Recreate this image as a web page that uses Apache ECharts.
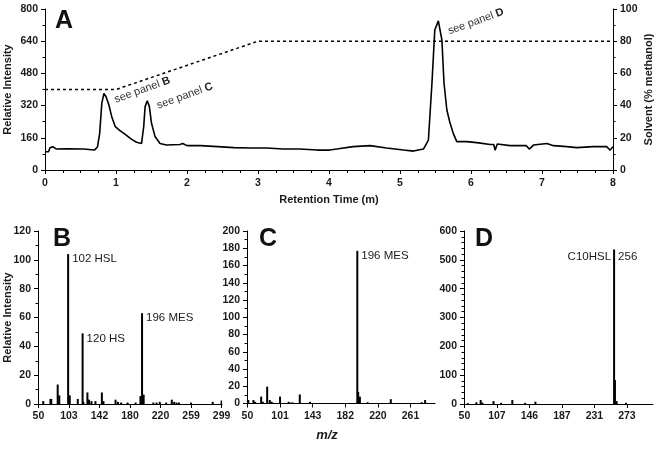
<!DOCTYPE html>
<html>
<head>
<meta charset="utf-8">
<script src="https://cdn.jsdelivr.net/npm/echarts@6/dist/echarts.min.js"></script>
<style>html,body{margin:0;padding:0;background:#fff}#c{width:656px;height:449px}</style>
</head>
<body>
<div id="c"></div>
<script>
// ---- Panel A: chromatogram ----
const timeA = [0, 0.05, 0.07, 0.11, 0.16, 0.3, 0.54, 0.7, 0.74, 0.77, 0.8, 0.83, 0.86, 0.9, 0.94, 0.99, 1.06, 1.13, 1.22, 1.29, 1.36, 1.39, 1.41, 1.44, 1.47, 1.5, 1.55, 1.62, 1.71, 1.9, 1.94, 2.0, 2.19, 2.43, 2.66, 2.89, 3.12, 3.36, 3.59, 3.83, 4.01, 4.11, 4.34, 4.58, 4.81, 5.05, 5.19, 5.33, 5.4, 5.45, 5.49, 5.54, 5.59, 5.62, 5.66, 5.7, 5.75, 5.8, 5.94, 6.08, 6.27, 6.32, 6.34, 6.37, 6.55, 6.78, 6.82, 6.88, 7.07, 7.16, 7.35, 7.49, 7.72, 7.91, 7.96, 8.0];
const intensityA = [91, 91, 111, 116, 104, 105, 104, 99, 116, 182, 331, 381, 364, 323, 265, 215, 194, 177, 152, 138, 132, 215, 315, 344, 315, 232, 166, 132, 124, 127, 132, 121, 121, 116, 111, 109, 109, 104, 104, 99, 99, 104, 116, 121, 109, 99, 94, 104, 149, 431, 696, 741, 646, 431, 298, 240, 182, 141, 141, 136, 127, 127, 98, 129, 121, 121, 104, 124, 132, 121, 116, 111, 116, 116, 99, 116];
const solventTime = [0, 1, 3, 8];
const solventPct = [50, 50, 80, 80];
const annotA = [
  {letter: 'B', t: 1.37, v: 398},
  {letter: 'C', t: 1.97, v: 368},
  {letter: 'D', t: 6.07, v: 738}
];

// ---- Panels B, C, D: mass spectra (m/z, relative intensity) ----
const ticksB = [50, 103, 142, 180, 220, 259, 299];
const ticksC = [50, 101, 143, 182, 220, 261];
const ticksD = [50, 107, 146, 187, 231, 273];
const endMzB = 299, endMzC = 289, endMzD = 303;
const slotsPerTick = 38;

const peaksB = [[59,2],[71,3.5],[72,3.5],[83,13.5],[86,6],[102,104],[104,6],[114,3.5],[120,49],[122,1.5],[127,8],[129,3],[132,2],[137,2],[145,8],[147,2],[162,3],[165,1.5],[169,1],[177,1],[187,1],[194,5.5],[196,63],[198,6.5],[211,1],[215,1],[219,1.5],[227,1],[234,3],[237,1.5],[241,1],[244,1],[259,1],[287,1.5],[299,2.5]];
const peaksC = [[52,4],[59,4],[62,2],[72,8],[74,2],[81,19.5],[85,4],[88,2],[91,1],[101,8],[112,2],[114,1],[116,1],[118,1],[126,10.5],[140,2],[196,177],[197,13.5],[199,8],[208,1.5],[236,5],[274,1.5],[278,4]];
const peaksD = [[57,3],[72,6],[79,14],[82,5],[101,10],[112,4],[126,14],[141,4],[154,8],[256,536],[258,83],[260,10],[272,4]];

const labelsB = [[102, '102 HSL'], [120, '120 HS'], [196, '196 MES']];
const labelsC = [[196, '196 MES']];
const labelsD = [[256, 'C10HSL', '256']];

// ordinal m/z slots (equal number of slots between labelled ticks, like a category axis)
function buildCats(ticks, n, endMz) {
  const cats = [];
  for (let i = 0; i < ticks.length - 1; i++) {
    const a = ticks[i], b = ticks[i + 1];
    for (let k = 0; k < n; k++) cats.push(Math.round(a + (b - a) * k / n));
  }
  for (let m = ticks[ticks.length - 1]; m <= endMz; m++) cats.push(m);
  return cats;
}
function nearestIdx(cats, mz) {
  let best = 0;
  for (let i = 1; i < cats.length; i++) if (Math.abs(cats[i] - mz) < Math.abs(cats[best] - mz)) best = i;
  return best;
}

const FONT = "'Liberation Sans Narrow', 'Liberation Sans', Arial, sans-serif";
const TXT = '#1a1a1a';

function spectrum(ticks, endMz, peaks, labels) {
  const cats = buildCats(ticks, slotsPerTick, endMz);
  const data = cats.map(() => '-');
  peaks.forEach(([mz, v]) => {
    const i = nearestIdx(cats, mz);
    if (data[i] === '-' || data[i] < v) data[i] = v;
  });
  const items = data.map((v) => ({value: v}));
  const markData = [];
  labels.forEach(l => {
    const i = nearestIdx(cats, l[0]);
    if (l.length === 2) {
      items[i].label = {show: true, position: [5, -1], formatter: l[1], color: TXT, fontSize: 11.5, fontFamily: 'Liberation Sans', verticalAlign: 'top', align: 'left'};
    } else {
      items[i].label = {show: true, position: [5, 1], formatter: l[2], color: TXT, fontSize: 11.5, fontFamily: 'Liberation Sans', verticalAlign: 'top', align: 'left'};
      markData.push({coord: [String(cats[i]), data[i]], value: l[1]});
    }
  });
  return {cats: cats.map(String), items, markData};
}

const specB = spectrum(ticksB, endMzB, peaksB, labelsB);
const specC = spectrum(ticksC, endMzC, peaksC, labelsC);
const specD = spectrum(ticksD, endMzD, peaksD, labelsD);

const axisLineS = {show: true, lineStyle: {color: '#000', width: 1}};
const tickLabel = {color: TXT, fontSize: 10.5, fontWeight: 'bold', fontFamily: FONT};

function catXAxis(gridIndex, spec, ticks, extra) {
  const show = (idx, val) => ticks.includes(+val);
  return Object.assign({
    type: 'category', gridIndex, data: spec.cats, boundaryGap: true,
    axisLine: axisLineS,
    axisTick: {show: true, interval: show, alignWithLabel: true, length: 4, lineStyle: {color: '#000'}},
    axisLabel: Object.assign({interval: show, margin: 7}, tickLabel),
    splitLine: {show: false}, nameMoveOverlap: false
  }, extra || {});
}
function valYAxis(gridIndex, max, interval, minorSplit, extra) {
  return Object.assign({
    type: 'value', gridIndex, min: 0, max, interval,
    axisLine: axisLineS,
    axisTick: {show: true, length: 4, lineStyle: {color: '#000'}},
    minorTick: {show: true, splitNumber: minorSplit, length: 2.5, lineStyle: {color: '#000'}},
    axisLabel: Object.assign({margin: 7}, tickLabel),
    splitLine: {show: false}, minorSplitLine: {show: false}, nameMoveOverlap: false
  }, extra || {});
}

const chart = echarts.init(document.getElementById('c'), null, {renderer: 'canvas'});
const nameStyle = {color: TXT, fontSize: 11, fontWeight: 'bold', fontFamily: FONT};

chart.setOption({
  animation: false,
  backgroundColor: '#fff',
  title: [
    {text: 'A', left: 55, top: 9},
    {text: 'B', left: 53, top: 227},
    {text: 'C', left: 259, top: 227},
    {text: 'D', left: 475, top: 227}
  ].map(t => Object.assign(t, {padding: 0, textStyle: {fontSize: 25, fontWeight: 'bold', color: '#111', fontFamily: 'Liberation Sans'}})),
  grid: [
    {left: 45, top: 9, width: 568, height: 161, outerBoundsMode: 'none', containLabel: false},
    {left: 38, top: 231, width: 184, height: 173, outerBoundsMode: 'none', containLabel: false},
    {left: 247, top: 231, width: 188, height: 172.5, outerBoundsMode: 'none', containLabel: false},
    {left: 464, top: 231, width: 189, height: 173, outerBoundsMode: 'none', containLabel: false}
  ],
  xAxis: [
    {type: 'value', gridIndex: 0, min: 0, max: 8, interval: 1,
     axisLine: axisLineS,
     axisTick: {show: true, length: 4, lineStyle: {color: '#000'}},
     minorTick: {show: true, splitNumber: 4, length: 3, lineStyle: {color: '#000'}},
     axisLabel: Object.assign({margin: 8}, tickLabel),
     splitLine: {show: false}, minorSplitLine: {show: false}, nameMoveOverlap: false,
     name: 'Retention Time (m)', nameLocation: 'middle', nameGap: 24, nameTextStyle: nameStyle},
    catXAxis(1, specB, ticksB),
    catXAxis(2, specC, ticksC, {name: 'm/z', nameLocation: 'middle', nameGap: 25,
      nameTextStyle: {color: TXT, fontSize: 13, fontWeight: 'bold', fontStyle: 'italic', fontFamily: 'Liberation Sans', padding: [0, 28, 0, 0]}}),
    catXAxis(3, specD, ticksD)
  ],
  yAxis: [
    valYAxis(0, 800, 160, 2, {name: 'Relative Intensity', nameLocation: 'middle', nameRotate: 90, nameGap: 32, nameTextStyle: nameStyle}),
    valYAxis(0, 100, 20, 2, {position: 'right', name: 'Solvent (% methanol)', nameLocation: 'middle', nameRotate: 90, nameGap: 30, nameTextStyle: nameStyle}),
    valYAxis(1, 120, 20, 2, {name: 'Relative Intensity', nameLocation: 'middle', nameRotate: 90, nameGap: 25, nameTextStyle: nameStyle}),
    valYAxis(2, 200, 20, 2),
    valYAxis(3, 600, 100, 5)
  ],
  series: [
    {type: 'line', xAxisIndex: 0, yAxisIndex: 0, symbol: 'none', z: 3,
     data: timeA.map((t, i) => [t, intensityA[i]]),
     lineStyle: {color: '#000', width: 1.6},
     markPoint: {symbol: 'circle', symbolSize: 0, silent: true,
       data: annotA.map(a => ({coord: [a.t, a.v], value: a.letter})),
       label: {show: true, position: 'inside', rotate: 20, color: '#333', fontSize: 11, fontFamily: 'Liberation Sans',
         formatter: p => 'see panel {b|' + p.value + '}',
         rich: {b: {fontWeight: 'bold', fontSize: 11, color: '#222', fontFamily: 'Liberation Sans'}}}}},
    {type: 'line', xAxisIndex: 0, yAxisIndex: 1, symbol: 'none', z: 2,
     data: solventTime.map((t, i) => [t, solventPct[i]]),
     lineStyle: {color: '#000', width: 1.5, type: [3, 3]}},
    {type: 'bar', xAxisIndex: 1, yAxisIndex: 2, data: specB.items, barWidth: 2, itemStyle: {color: '#000'}},
    {type: 'bar', xAxisIndex: 2, yAxisIndex: 3, data: specC.items, barWidth: 2, itemStyle: {color: '#000'}},
    {type: 'bar', xAxisIndex: 3, yAxisIndex: 4, data: specD.items, barWidth: 2, itemStyle: {color: '#000'},
     markPoint: {symbol: 'circle', symbolSize: 0, silent: true, data: specD.markData,
       label: {show: true, position: 'left', distance: 0, offset: [-3, 7], formatter: p => p.value, color: TXT, fontSize: 11.5, fontFamily: 'Liberation Sans'}}}
  ]
});
</script>
</body>
</html>
